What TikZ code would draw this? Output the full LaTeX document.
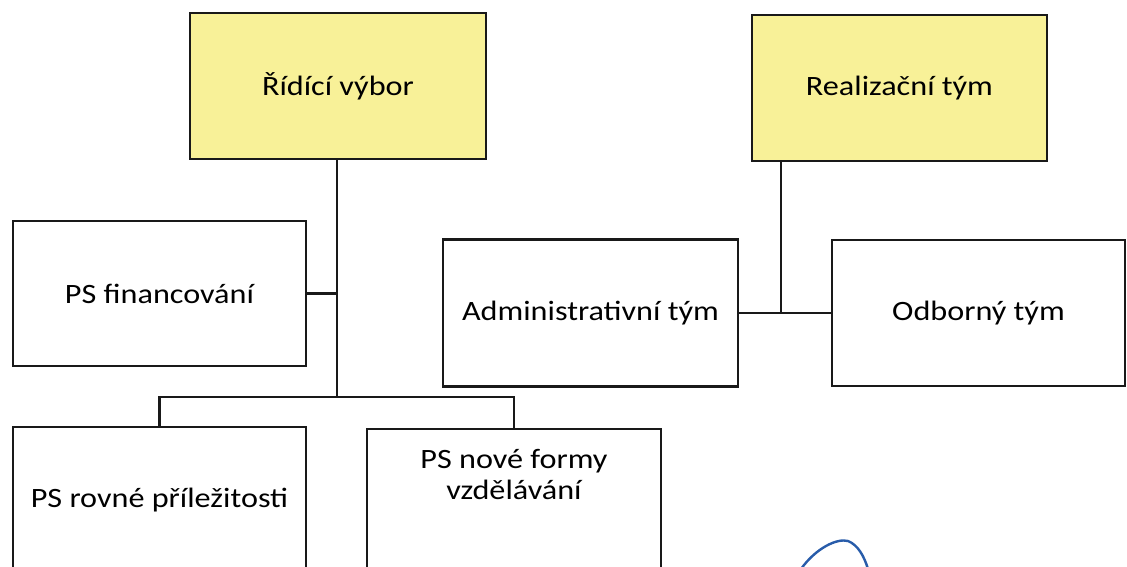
\documentclass[tikz,border=0pt]{standalone}
\usepackage{fontspec}
\setmainfont{Carlito}
\usepackage{graphicx}
\definecolor{boxyellow}{RGB}{248,241,152}
\definecolor{penblue}{RGB}{40,92,170}
\newcommand{\wtxt}[1]{\scalebox{1.15}[1]{#1}}
\begin{document}
\begin{tikzpicture}[x=1pt,y=-1pt,
  orgbox/.style={draw=black!90,line width=2.6pt,fill=white,rectangle,inner sep=0pt,
    font=\fontsize{28}{31}\selectfont,align=center},
  headbox/.style={orgbox,fill=boxyellow},
  boxtext/.style={inner sep=0pt,font=\fontsize{28}{31}\selectfont,align=center},
  conn/.style={draw=black!90,line width=2.6pt}]
\useasboundingbox (0,0) rectangle (1127,567);
\clip (0,0) rectangle (1127,567);
\fill[white] (0,0) rectangle (1127,567);
\node[headbox,minimum width=296pt,minimum height=146pt] (rv) at (338,86) {\wtxt{Řídící výbor}};
\node[headbox,minimum width=295pt,minimum height=146pt] (rt) at (899.5,88) {\wtxt{Realizační tým}};
\node[orgbox,minimum width=293pt,minimum height=145pt] (fin) at (159.5,293.5) {\wtxt{PS financování}};
\node[orgbox,minimum width=295pt,minimum height=147pt] (adm) at (590.5,313) {\wtxt{Administrativní tým}};
\node[orgbox,minimum width=293pt,minimum height=146pt] (odb) at (978.5,313) {\wtxt{Odborný tým}};
\node[orgbox,minimum width=293pt,minimum height=146pt] (rov) at (159.5,500) {\wtxt{PS rovné příležitosti}};
\node[orgbox,minimum width=294pt,minimum height=146pt] (nov) at (514,502) {};
\node[boxtext] (novtext) at (514,478) {\wtxt{\begin{tabular}{@{}c@{}}PS nové formy\\vzdělávání\end{tabular}}};
\coordinate (j1) at (337,397);
\coordinate (j2) at (781,313);
\draw[conn] (rv.south -| j1) -- (j1);
\draw[conn] (fin.east) -- (fin.east -| j1);
\draw[conn] (rov.north) |- (j1) -| (nov.north);
\draw[conn] (rt.south -| j2) -- (j2);
\draw[conn] (adm.east) -- (odb.west);
\draw[penblue,line width=2.4pt,line cap=round] (801,569) .. controls (816,548) and (837,538) .. (848,541) .. controls (858,545) and (864,556) .. (868,569);
\end{tikzpicture}
\end{document}
